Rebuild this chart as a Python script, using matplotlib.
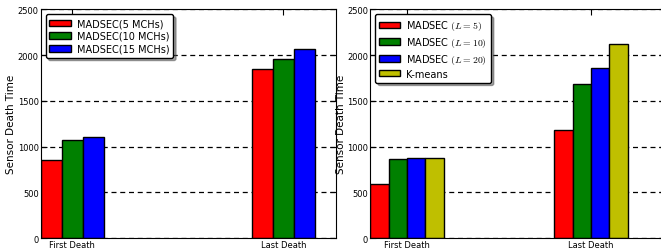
import numpy as np
import matplotlib
matplotlib.use('Agg')
import matplotlib.pyplot as plt

plt.rcParams['mathtext.fontset'] = 'cm'
plt.rcParams['xtick.direction'] = 'in'
plt.rcParams['ytick.direction'] = 'in'
plt.rcParams['xtick.top'] = True
plt.rcParams['ytick.right'] = True
plt.rcParams['xtick.major.size'] = 4
plt.rcParams['ytick.major.size'] = 4

# data
groups = ['First Death', 'Last Death']

labels_a = ['MADSEC(5 MCHs)', 'MADSEC(10 MCHs)', 'MADSEC(15 MCHs)']
vals_a = [[853, 1848],
          [1068, 1954],
          [1108, 2070]]

labels_b = [r'MADSEC $(L=5)$', r'MADSEC $(L=10)$', r'MADSEC $(L=20)$', 'K-means']
vals_b = [[590, 1177],
          [867, 1680],
          [878, 1859],
          [871, 2121]]

colors = ['r', 'g', 'b', 'y']
width = 0.1
ind = np.arange(len(groups))


def panel(ax, labels, vals, xmax):
    n = len(labels)
    for k in range(n):
        ax.bar(ind + k*width, vals[k], width, color=colors[k], edgecolor='k',
               linewidth=1.0, align='edge', label=labels[k], zorder=2)
    ax.set_xticks(ind + n*width/2)
    ax.set_xticklabels(groups, fontsize=6)
    ax.set_xlim(0, xmax)
    ax.set_ylim(0, 2500)
    ax.set_yticks([0, 500, 1000, 1500, 2000, 2500])
    ax.tick_params(axis='y', labelsize=6, pad=1.5)
    ax.tick_params(axis='x', pad=1.5)
    ax.yaxis.grid(True, linestyle='--', color='k', linewidth=0.9, dashes=(4, 3), zorder=1)
    ax.set_axisbelow(True)
    ax.set_ylabel('Sensor Death Time', fontsize=7.5, labelpad=1)
    leg = ax.legend(loc='upper left', fontsize=7, fancybox=True, shadow=True,
                    handlelength=2.2, handleheight=0.6, handletextpad=0.6,
                    labelspacing=0.3, borderpad=0.4, framealpha=1)
    leg.get_frame().set_edgecolor('k')


fig = plt.figure(figsize=(6.61, 2.53), dpi=100)
ax1 = fig.add_axes([0.0616, 0.0553, 0.4467, 0.904])
ax2 = fig.add_axes([0.5602, 0.0553, 0.4454, 0.904])

panel(ax1, labels_a, vals_a, 1.4)
panel(ax2, labels_b, vals_b, 1.6)

fig.savefig('out.png', dpi=100)
